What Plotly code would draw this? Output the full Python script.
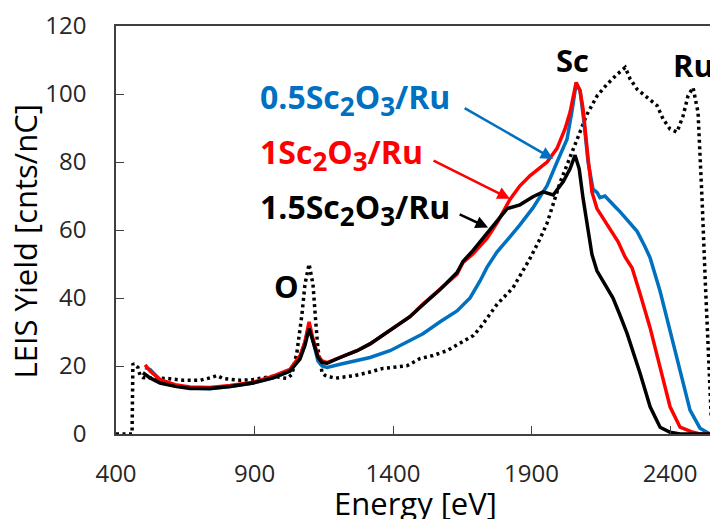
import plotly.graph_objects as go

# ---------------- data (Energy [eV], LEIS yield [cnts/nC]) ----------------
ru_x = [400, 458, 461, 479, 487, 497, 523, 559, 588, 642, 703, 739, 765, 786, 812,
        848, 895, 967, 1003, 1017, 1035, 1053, 1071, 1082, 1097, 1111, 1121, 1129,
        1144, 1155, 1191, 1263, 1310, 1364, 1400, 1451, 1498, 1544, 1595, 1642,
        1689, 1714, 1776, 1833, 1895, 1931, 1956, 2003, 2039, 2075, 2100, 2137,
        2173, 2209, 2238, 2256, 2281, 2317, 2353, 2375, 2400, 2425, 2447, 2465,
        2483, 2501, 2508, 2516, 2527, 2537, 2548, 2555, 2573]
ru_y = [0, 0, 20.7, 19.6, 17.2, 16.6, 16.5, 16.4, 16.3, 15.8, 15.8, 16.5, 17.2, 16.3, 16.0,
        15.8, 16.0, 17.0, 16.5, 16.4, 17.5, 24, 35, 44, 50, 44, 33, 25,
        18, 17.2, 16.4, 17.2, 18.1, 19.3, 19.6, 20.1, 22.2, 23.1, 24.5, 26.6,
        28.9, 31.2, 38.2, 43, 51.7, 57.5, 62, 74, 81.5, 89, 94, 99.5,
        102.9, 105.8, 107.8, 104.4, 101.4, 99, 96.6, 92.6, 89.7, 88.8, 93.6, 99.5,
        101.9, 94.6, 83, 68, 45, 24.5, 6, 0, 0]

s05_x = [505, 523, 559, 613, 667, 739, 812, 895, 967, 1028, 1064, 1082, 1097, 1111,
         1129, 1144, 1162, 1209, 1270, 1317, 1389, 1461, 1508, 1570, 1631, 1678,
         1714, 1739, 1775, 1822, 1858, 1905, 1956, 1992, 2028, 2046, 2061, 2075,
         2089, 2104, 2122, 2137, 2147, 2165, 2183, 2200, 2219, 2248, 2281, 2310,
         2328, 2364, 2400, 2436, 2472, 2508, 2544, 2573]
s05_y = [19.5, 19.0, 16.0, 14.3, 13.5, 13.3, 14.0, 15.0, 16.5, 18.5, 22.5, 27, 32, 27,
         21.5, 20.0, 19.6, 20.5, 21.5, 22.5, 24.5, 27.5, 29.5, 33, 36.2, 40,
         45, 49, 53.5, 58, 61.5, 66.5, 73, 80, 86.7, 95, 103, 101,
         92, 80, 72, 71, 69.5, 70, 68.3, 67, 65.4, 62.5, 59.6, 55,
         51.8, 42, 30.4, 17.8, 7, 1.7, 0, 0]

s1_x = [505, 523, 559, 613, 667, 739, 812, 895, 967, 1028, 1064, 1082, 1097, 1111,
        1129, 1144, 1162, 1209, 1270, 1317, 1389, 1461, 1508, 1570, 1631, 1653,
        1689, 1739, 1775, 1822, 1858, 1895, 1956, 1992, 2021, 2039, 2061, 2075,
        2086, 2104, 2118, 2136, 2158, 2183, 2212, 2238, 2263, 2292, 2328, 2364,
        2400, 2436, 2483, 2508, 2573]
s1_y = [20.3, 18.5, 16.0, 14.5, 13.8, 13.7, 14.3, 15.2, 17.0, 19.0, 23, 27, 33, 28,
        23, 21.5, 21.0, 22.5, 24.5, 26.5, 30.4, 34.5, 38.2, 42.5, 47, 50.5,
        53, 57.5, 62, 69, 73, 76, 80, 84, 89.8, 94.6, 103.4, 101,
        95.6, 81, 71.2, 66.3, 63.5, 60.4, 56.6, 52, 48.8, 41.2, 31.2, 19.6,
        8, 2, 0.5, 0, 0]

s15_x = [497, 523, 559, 613, 667, 739, 812, 895, 967, 1028, 1064, 1082, 1097, 1111,
         1129, 1144, 1162, 1209, 1270, 1317, 1389, 1461, 1508, 1570, 1631, 1653,
         1689, 1739, 1775, 1812, 1858, 1905, 1942, 1978, 2014, 2039, 2057, 2072,
         2086, 2100, 2111, 2118, 2136, 2158, 2194, 2219, 2245, 2292, 2328, 2364,
         2400, 2436, 2573]
s15_y = [18.0, 16.5, 15.0, 14.0, 13.4, 13.4, 14.0, 15.0, 16.5, 18.5, 22, 26, 31, 27,
         22.5, 21.0, 20.8, 22.5, 24.5, 26.5, 30.4, 34.5, 38, 42.5, 47.5, 50.8,
         54, 59, 62.5, 66.3, 67.4, 69.8, 71.2, 70.3, 74.2, 78, 82, 78,
         69.3, 62, 56.6, 52.8, 48, 45, 40, 35, 29.5, 17.8, 8, 2,
         0.5, 0, 0]

x_ticks = [400, 900, 1400, 1900, 2400]
y_ticks = [0, 20, 40, 60, 80, 100, 120]

BLUE = "#0070C0"
RED = "#FF0000"
BLACK = "#000000"
FONT = "Open Sans"


def sub(d):
    return "<sub><span style='font-size:26px'>" + d + "</span></sub>"


fig = go.Figure()
fig.add_trace(go.Scatter(x=ru_x, y=ru_y, mode="lines",
                         line=dict(color=BLACK, width=3.5, dash="3px,3.5px"),
                         name="Ru"))
fig.add_trace(go.Scatter(x=s05_x, y=s05_y, mode="lines",
                         line=dict(color=BLUE, width=3.5), name="0.5Sc2O3/Ru"))
fig.add_trace(go.Scatter(x=s1_x, y=s1_y, mode="lines",
                         line=dict(color=RED, width=3.5), name="1Sc2O3/Ru"))
fig.add_trace(go.Scatter(x=s15_x, y=s15_y, mode="lines",
                         line=dict(color=BLACK, width=3.5), name="1.5Sc2O3/Ru"))

ann = []
labels = [("0.5Sc" + sub("2") + "O" + sub("3") + "/Ru", BLUE, 913, 98.4),
          ("1Sc" + sub("2") + "O" + sub("3") + "/Ru", RED, 913, 82.3),
          ("1.5Sc" + sub("2") + "O" + sub("3") + "/Ru", BLACK, 913, 66.0)]
for t, c, x, y in labels:
    ann.append(dict(x=x, y=y, xref="x", yref="y", text="<b>" + t + "</b>",
                    showarrow=False, xanchor="left", yanchor="middle",
                    font=dict(family=FONT, size=32, color=c)))
arrows = [(BLUE, 1978, 80.9, 1653, 96.1),
          (RED, 1822, 69.2, 1541, 80.6),
          (BLACK, 1743, 60.7, 1635, 64.8)]
for c, x, y, axx, ayy in arrows:
    ann.append(dict(x=x, y=y, xref="x", yref="y", ax=axx, ay=ayy, axref="x", ayref="y",
                    text="", showarrow=True, arrowhead=2, arrowsize=1, arrowwidth=2.5,
                    arrowcolor=c))
for t, x, y in [("Sc", 2046, 110), ("Ru", 2483, 108.6), ("O", 1017, 43.5)]:
    ann.append(dict(x=x, y=y, xref="x", yref="y", text="<b>" + t + "</b>",
                    showarrow=False, xanchor="center", yanchor="middle",
                    font=dict(family=FONT, size=31, color=BLACK)))
ann.append(dict(x=-0.151, y=0.472, xref="paper", yref="paper", text="LEIS Yield [cnts/nC]",
                textangle=-90, showarrow=False, xanchor="center", yanchor="middle",
                font=dict(family=FONT, size=31, color="#000")))
ann.append(dict(x=0.497, y=-0.168, xref="paper", yref="paper", text="Energy [eV]",
                showarrow=False, xanchor="center", yanchor="middle",
                font=dict(family=FONT, size=31, color="#000")))

# page body has an 8px margin in the browser: compensate so the plot area lands
# at the same place as in the reference
fig.update_layout(
    width=710, height=511,
    margin=dict(l=108, r=0, t=15, b=85),
    plot_bgcolor="white", paper_bgcolor="white",
    showlegend=False,
    annotations=ann,
    font=dict(family=FONT, size=24, color="#262626"),
)
fig.update_xaxes(range=[400, 2573], tickvals=x_ticks, ticks="inside", ticklen=8,
                 tickwidth=1.3, tickcolor="#404040", showline=True, linecolor="#404040",
                 linewidth=1.5, mirror=True, showgrid=False, zeroline=False,
                 ticklabelstandoff=17, ticklabeloverflow="allow",
                 tickfont=dict(family=FONT, size=24, color="#262626"))
fig.update_yaxes(range=[0, 120], tickvals=y_ticks, ticks="inside", ticklen=8,
                 tickwidth=1.3, tickcolor="#404040", showline=True, linecolor="#404040",
                 linewidth=1.5, mirror=False, showgrid=False, zeroline=False,
                 ticklabelstandoff=23, ticklabeloverflow="allow",
                 tickfont=dict(family=FONT, size=24, color="#262626"))

fig.write_html("out.html")
